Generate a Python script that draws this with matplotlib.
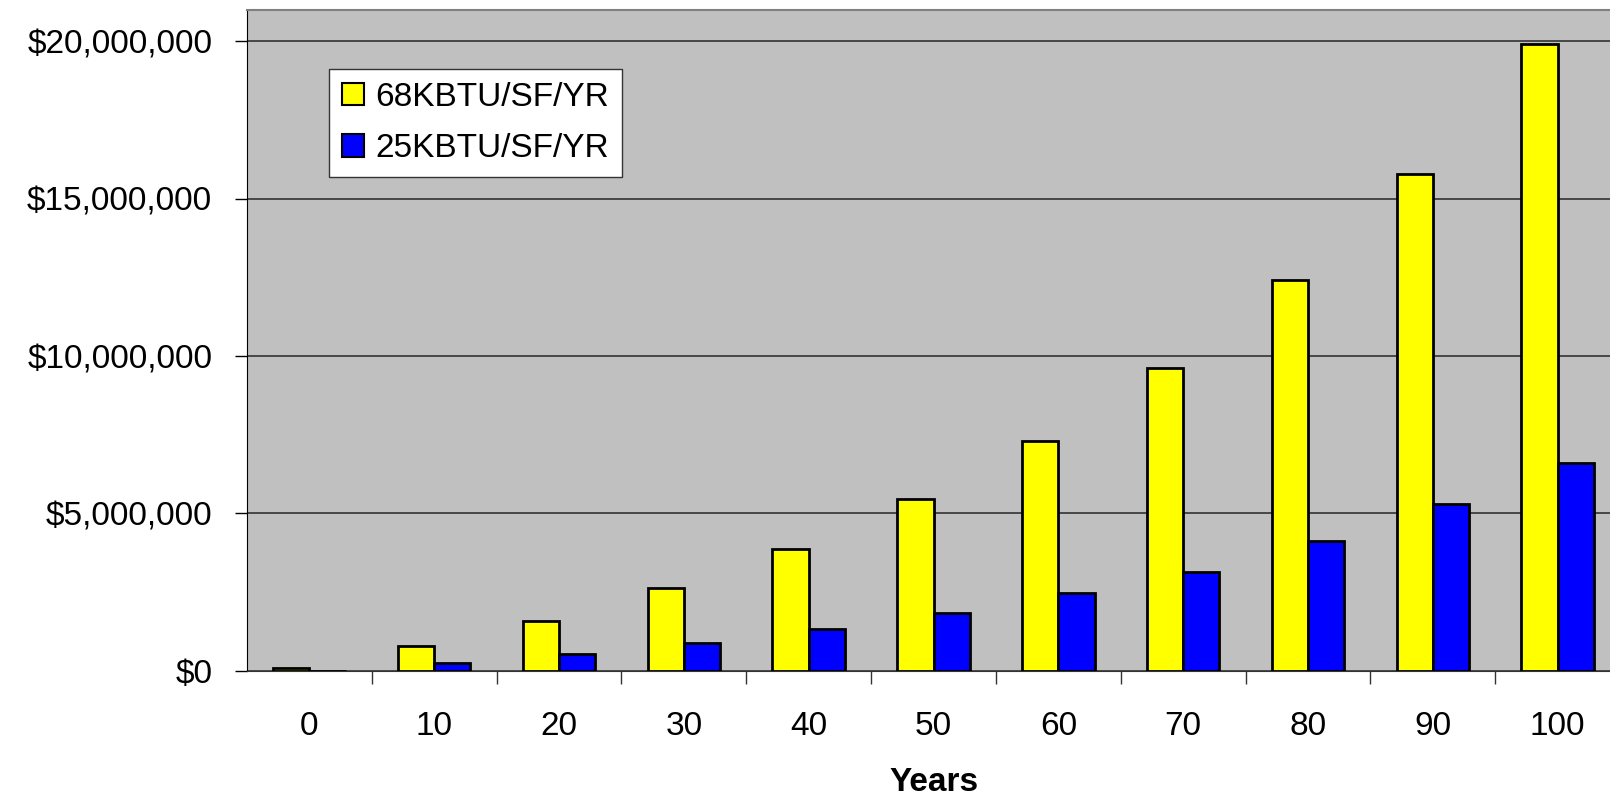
import matplotlib
matplotlib.use('Agg')
import matplotlib.pyplot as plt
from matplotlib.ticker import FuncFormatter, FixedLocator
import numpy as np

plt.rcParams['font.family'] = ['Liberation Sans', 'DejaVu Sans']

years = ['0', '10', '20', '30', '40', '50', '60', '70', '80', '90', '100']
cost_68 = [0.08e6, 0.78e6, 1.58e6, 2.64e6, 3.86e6, 5.45e6, 7.31e6, 9.61e6, 12.41e6, 15.78e6, 19.93e6]
cost_25 = [0.0, 0.25e6, 0.52e6, 0.87e6, 1.32e6, 1.84e6, 2.46e6, 3.15e6, 4.11e6, 5.29e6, 6.61e6]
labels = ['68KBTU/SF/YR', '25KBTU/SF/YR']

FS = 24

fig = plt.figure(figsize=(16.1, 7.97), dpi=100)
# plot area runs past the right edge, like the source
ax = fig.add_axes([247 / 1610, 126.3 / 797, 1373 / 1610, 660.7 / 797])
ax.set_facecolor('#C0C0C0')

x = np.arange(len(years))
w = 0.29
ax.bar(x - w / 2, cost_68, w, color='#FFFF00', edgecolor='black', linewidth=2, label=labels[0], zorder=3)
ax.bar(x + w / 2, cost_25, w, color='#0000FF', edgecolor='black', linewidth=2, label=labels[1], zorder=3)

ax.set_xlim(-0.5, len(years) - 0.5)
ax.set_ylim(0, 21e6)
ax.set_yticks(np.arange(0, 20e6 + 1, 5e6))
ax.yaxis.set_major_formatter(FuncFormatter(lambda v, p: '${:,.0f}'.format(v)))
ax.grid(axis='y', color='#333333', linewidth=1.2, zorder=1)

ax.set_xticks(x)
ax.set_xticklabels(years)
ax.xaxis.set_minor_locator(FixedLocator(np.arange(0.5, len(years) - 0.5, 1)))
ax.tick_params(axis='x', which='major', length=0, pad=29, labelsize=FS)
ax.tick_params(axis='x', which='minor', length=9, width=1, color='#333333', direction='out')
ax.tick_params(axis='y', which='major', length=9, width=1, pad=16, labelsize=FS)

fig.text((247 + 1620) / 2 / 1610, 6 / 797, 'Years', fontsize=FS, fontweight='bold',
         ha='center', va='baseline')

for s in ['top', 'right']:
    ax.spines[s].set_color('#808080')
    ax.spines[s].set_linewidth(1.5)
ax.spines['left'].set_color('black')
ax.spines['bottom'].set_color('#333333')

leg = ax.legend(loc='upper left', bbox_to_anchor=(0.0597, 0.9107), borderaxespad=0,
                fontsize=FS, fancybox=False, framealpha=1, edgecolor='#333333',
                handlelength=0.66, handleheight=0.66, handletextpad=0.36,
                labelspacing=0.62, borderpad=0.38)
leg.get_frame().set_linewidth(1)
for h in leg.legend_handles:
    h.set_linewidth(1.5)

fig.savefig('out.png', dpi=100)
